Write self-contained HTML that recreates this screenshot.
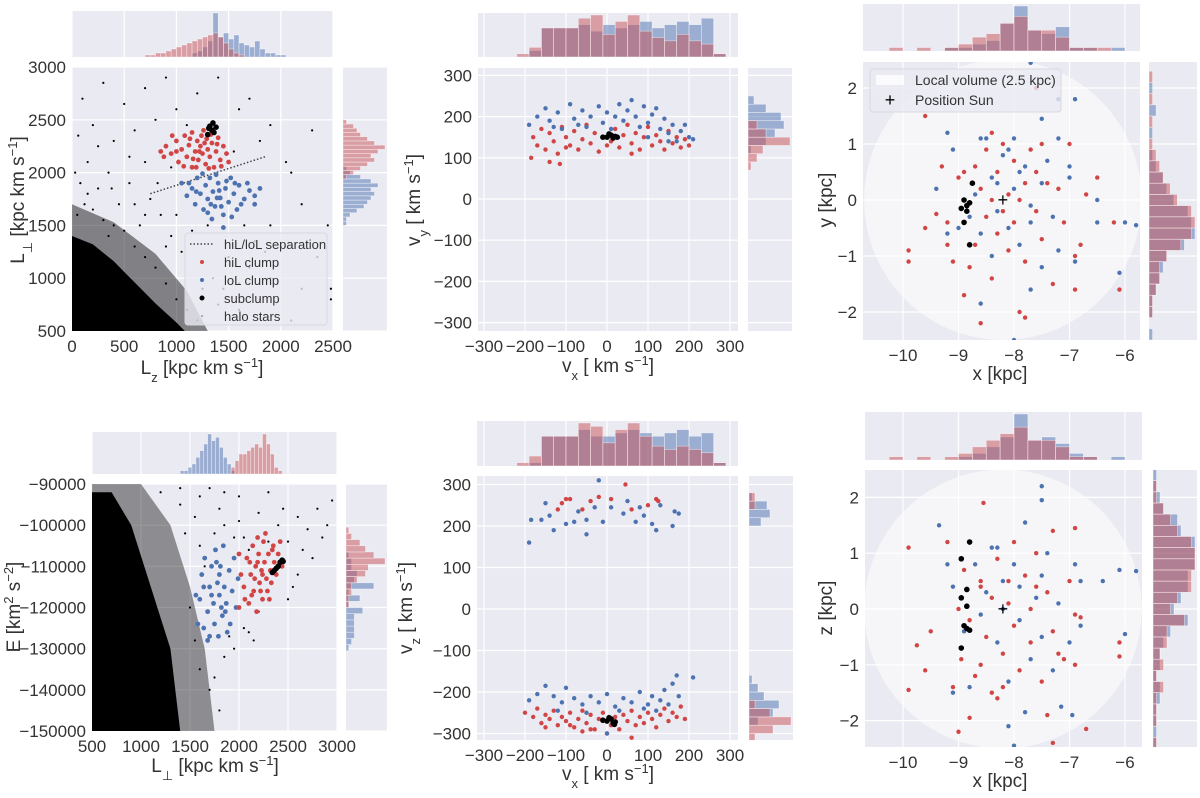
<!DOCTYPE html>
<html><head><meta charset="utf-8">
<style>
html,body{margin:0;padding:0;background:#fff;}
svg{display:block;font-family:"Liberation Sans",sans-serif;}
</style></head>
<body>
<svg id="fig" width="1200" height="798" viewBox="0 0 1200 798" xmlns="http://www.w3.org/2000/svg"></svg>
<script>
// ---------------- DATA ----------------
// Panel 1: Lz vs Lperp
const p1Red=[900,2250,950,2180,1000,2300,1020,2100,1050,2220,1080,2350,1100,2150,1120,2260,1150,2050,1150,2380,1180,2200,1200,2300,1210,2120,1230,2250,1250,2180,1260,2400,1280,2080,1290,2320,1300,2220,1320,2150,1340,2280,1360,2050,1380,2200,1400,2330,1420,2120,1450,2250,1480,2180,1500,2100,880,2150,960,2350,1070,2060,1130,2320,1190,2050,1240,2350,1310,2040,1390,2270,1430,2060,1000,2200,1220,2200,1160,2130,1270,2280,850,2200,1330,2360];
const p1Blue=[1050,1900,1100,1780,1150,1850,1180,1700,1200,1950,1230,1800,1260,1650,1280,1880,1300,1750,1320,1950,1350,1820,1370,1680,1400,1900,1420,1760,1450,1600,1470,1850,1500,1720,1520,1950,1550,1800,1580,1650,1600,1880,1650,1750,1700,1830,1750,1700,1800,1850,1340,1560,1250,1990,1380,1980,1480,1920,1560,1900,1620,1700,1430,1680,1330,1700,1190,1820,1410,1830,1300,1620,1530,1580,1120,1900,1680,1900,1750,1780,1450,1480,1390,1760];
const p1Sub=[1300,2360,1320,2440,1340,2400,1350,2470,1360,2380,1310,2420,1380,2430];
const p1Halo=[50,1600,120,1700,200,1650,300,1550,80,1900,250,1850,400,1500,500,1450,450,1700,600,1300,700,1200,650,1500,800,1100,900,950,1000,800,1100,700,1200,600,150,2100,350,2000,550,1900,750,1750,850,1600,950,1400,1050,1250,1250,900,1400,750,1500,1200,1700,1100,1900,1500,2000,1300,2200,1700,2100,2000,1800,2300,1600,2600,1400,2900,1200,2750,1000,2600,800,2500,600,2400,400,2300,200,2450,100,2700,300,2850,700,2800,900,2900,1100,2450,500,2650,1700,2700,1900,2450,2300,2400,2450,1500,2350,1200,1600,950,1300,1500,700,2100,250,2250,60,2350,1550,2200,2050,2100,1850,1250,2480,900,2480,800,1650,1500,1750,1350,950,2050,30,2000,350,1400,150,1800,1000,1600,1150,1450,1250,1150,900,1300,600,1700,1350,1000,1450,900,1600,700,1800,800,2100,600,2200,900,1900,1000,700,1600,380,1850,550,2150,820,1900];
const p1Dense=[0,500,0,1400,200,1320,400,1160,600,960,800,760,1000,580,1080,500];
const p1Medium=[0,500,0,1700,400,1530,800,1230,1100,880,1300,500];
const p1Sep=[750,1800,1850,2150];
const p1TopStart=700, p1TopW=50;
const p1TopRed=[1,1,2,2,3,4,5,6,7,8,9,10,11,12,10,7,4,2,1,0,0,0,0,0,0,0,0];
const p1TopBlue=[0,0,0,0,0,0,0,0,0,2,3,5,8,22,10,12,9,11,7,6,5,8,4,2,2,1,1];
const p1RStart=1500, p1RW=40;
const p1RBlue=[1,1,2,4,6,7,8,9,8,10,8,5,2,1,0,0,0,0,0,0,0,0,0,0,0];
const p1RRed=[0,0,0,0,0,0,0,0,0,0,0,1,3,5,7,9,8,10,12,9,7,5,4,3,1];
const p1XTicks=[0,500,1000,1500,2000,2500];
const p1YTicks=[500,1000,1500,2000,2500,3000];

// Panel 2: vx vs vy
const p2Red=[-180,150,-170,130,-160,170,-150,120,-140,160,-130,140,-120,110,-110,175,-100,150,-90,130,-80,165,-70,120,-60,145,-50,180,-40,135,-30,160,-20,115,-10,150,10,140,20,170,30,125,40,155,50,180,60,135,70,160,80,120,90,150,100,175,110,130,120,155,130,140,140,120,150,165,160,135,170,150,180,125,190,145,200,130,-100,125,0,130,60,110,-185,100,-140,90,-115,85];
const p2Blue=[-190,180,-170,200,-150,220,-140,190,-120,210,-110,170,-90,230,-80,195,-60,215,-50,175,-40,200,-20,225,-10,185,0,210,10,170,30,230,40,190,50,215,70,200,80,175,90,225,100,185,110,205,130,170,140,195,150,160,160,180,170,140,180,165,200,150,210,145,-130,175,60,240,120,220,20,200,-70,180,100,150,150,140,190,180];
const p2Sub=[0,150,10,155,15,148,20,152,5,158,-10,150,25,150];
const vxTopStart=-250, vxTopW=30;
const p2TopRed=[0,1,3,9,9,9,12,13,7,11,13,8,6,5,7,5,4,1];
const p2TopBlue=[0,0,2,9,9,9,10,8,10,9,10,11,9,10,11,10,12,1];
const p2RStart=70, p2RW=20;
const p2RRed=[1,3,5,14,6,3,0,0,0];
const p2RBlue=[0,0,1,6,9,12,11,6,2];
const vXTicks=[-300,-200,-100,0,100,200,300];
const vYTicks=[-300,-200,-100,0,100,200,300];

// Panel 3: x vs y
const p3Red=[-9.9,-1.1,-9.9,-0.9,-9.6,1.5,-9.6,-0.5,-9.4,-0.25,-9.3,0.6,-9.2,-0.8,-9.1,-1.1,-9.0,0.4,-8.9,-1.7,-8.8,-1.2,-8.7,-0.8,-8.6,0.2,-8.5,-0.3,-8.5,0.9,-8.4,-1.4,-8.3,0.5,-8.3,-0.6,-8.2,1.0,-8.1,0.1,-8.1,-0.9,-8.0,0.7,-8.0,-0.4,-7.9,-2.0,-7.8,0.3,-7.8,-1.1,-7.7,0.9,-7.6,-0.2,-7.6,0.5,-7.5,-0.7,-7.6,2.0,-7.3,-1.5,-7.2,0.2,-7.1,-0.4,-7.0,1.0,-6.9,-1.0,-6.8,-0.8,-6.7,0.1,-6.5,0.4,-6.1,-1.6,-8.6,-2.2,-8.4,1.2,-7.8,-2.1,-9.2,-0.4,-7.5,1.0,-8.4,0.0,-7.9,0.0,-8.7,0.6,-8.9,0.5,-8.2,-0.2,-7.4,0.3,-6.9,-1.6,-6.2,-0.4];
const p3Blue=[-9.4,0.2,-9.2,-0.6,-9.2,1.2,-9.0,-0.5,-9.1,0.9,-8.6,-1.85,-8.7,0.1,-8.6,-0.6,-8.5,1.1,-8.4,0.4,-8.4,-1.0,-8.3,-0.2,-8.2,0.8,-8.1,-0.5,-8.0,1.1,-8.0,0.2,-7.9,-0.8,-7.8,0.6,-7.7,-1.6,-7.7,-0.1,-7.5,1.45,-7.5,0.3,-7.5,-1.2,-7.4,0.7,-7.3,-0.3,-7.2,1.1,-7.2,-0.9,-7.0,0.4,-6.9,-1.1,-7.0,0.6,-6.5,-0.4,-6.5,0.0,-6.1,-1.3,-6.0,-0.4,-5.8,-0.45,-7.7,2.45,-8.0,-2.5,-6.9,1.8,-7.2,1.8,-8.6,1.1,-8.3,0.3,-7.7,-0.4,-8.1,0.9,-7.9,0.5,-8.8,-0.3];
const p3Sub=[-8.9,0.0,-8.85,-0.1,-8.95,-0.15,-8.8,-0.05,-8.9,-0.4,-8.8,-0.8,-8.75,0.3,-8.85,-0.2];
const xTopStart=-10.5, xTopW=0.25;
const p3TopRed=[0,1,0,1,0,1,2,4,5,8,10,6,6,4,1,1,1,0,0];
const p3TopBlue=[0,0,0,0,0,1,1,2,3,8,13,6,5,7,1,1,0,1,0];
const yRStart=-2.5, yRW=0.2;
const p3RRed=[0,0,1,1,2,3,3,5,9,12,13,12,8,6,4,3,2,1,0,1,0,1,0,1,0];
const p3RBlue=[1,0,1,1,2,3,4,5,10,13,12,11,7,5,4,2,1,0,1,0,2,0,1,0,0];
const xXTicks=[-10,-9,-8,-7,-6];
const yYTicks=[-2,-1,0,1,2];

// Panel 4: Lperp vs E
const p4Red=[2050,-115000,2080,-108000,2100,-119000,2120,-112000,2140,-105000,2150,-116000,2170,-110000,2180,-121000,2200,-107000,2210,-114000,2230,-111000,2240,-118000,2250,-104000,2260,-109000,2280,-113000,2290,-116000,2300,-107000,2320,-111000,2330,-114000,2350,-105000,2360,-109000,2380,-112000,2400,-107000,2420,-104000,2440,-110000,2000,-120000,2020,-112000,2060,-118000,2110,-109000,2190,-103000,2270,-102000,2160,-113000,2220,-116000,2310,-118000,2340,-106000,2130,-117000,2000,-107000,2240,-112000,2190,-109000];
const p4Blue=[1600,-118000,1620,-112000,1640,-125000,1650,-108000,1680,-121000,1700,-115000,1700,-127000,1720,-110000,1740,-119000,1750,-124000,1760,-106000,1780,-114000,1790,-127000,1800,-117000,1810,-110000,1830,-122000,1840,-105000,1850,-115000,1870,-119000,1880,-126000,1900,-111000,1910,-124000,1930,-116000,1950,-108000,1970,-120000,1990,-113000,1580,-124000,1560,-117000,1680,-128000,1770,-109000,1860,-121000,1720,-117000,1820,-120000,1640,-115000,1800,-112000];
const p4Sub=[2340,-111500,2360,-111000,2380,-110500,2400,-110000,2420,-109000,2440,-108500,2450,-108800];
const p4Dense=[500,-150000,500,-92000,700,-92000,900,-100000,1100,-115000,1300,-130000,1400,-150000];
const p4Medium=[500,-150000,500,-90000,1000,-90000,1300,-100000,1500,-115000,1650,-130000,1750,-150000];
const p4Halo=[1400,-91000,1600,-93000,1800,-96000,2000,-99000,2200,-97000,2400,-100000,2600,-98000,2800,-96000,2950,-94000,2700,-101000,2500,-104000,2300,-104000,2100,-106000,1950,-103000,2050,-125000,1950,-130000,1850,-132000,2150,-128000,2500,-118000,2600,-112000,2750,-108000,1700,-91000,2000,-93000,2300,-92000,2200,-121000,2100,-126000,2450,-96000,2850,-103000,2900,-100000,2650,-106000,1750,-102000,1850,-100000,2050,-103000,1600,-105000,1900,-127000,2550,-115000,1550,-98000,1450,-102000,1650,-110000,1500,-120000,1600,-135000,1700,-140000,1800,-145000,1750,-137000,1550,-128000,1400,-95000,1200,-92000,1850,-92000];
const p4TopStart=1400, p4TopW=40;
const p4TopBlue=[1,1,2,3,5,7,9,12,10,11,8,5,3,1,0,0,0,0,0,0,0,0,0,0,0,0,0,0];
const p4TopRed=[0,0,0,0,0,0,0,0,0,0,0,0,0,2,4,6,6,7,8,9,8,12,9,6,2,1,0,0];
const p4RStart=-132000, p4RW=1500;
const p4RBlue=[0,1,2,3,3,3,3,6,1,5,1,10,3,4,2,2,1,0,0,0,0];
const p4RRed=[0,0,0,0,0,0,0,0,1,1,2,2,4,7,8,14,10,7,5,2,1];
const p4XTicks=[500,1000,1500,2000,2500,3000];
const p4YTicks=[-150000,-140000,-130000,-120000,-110000,-100000,-90000];

// Panel 5: vx vs vz
const p5Red=[-110,255,-100,265,-90,265,-60,240,-40,260,-20,270,10,265,45,300,60,240,120,265,100,250,-120,240,125,260,-200,-250,-180,-260,-170,-240,-160,-275,-150,-255,-140,-265,-130,-245,-120,-280,-110,-260,-100,-270,-90,-250,-80,-285,-70,-265,-60,-245,-50,-275,-40,-255,-30,-290,-20,-265,-10,-250,10,-280,20,-260,30,-290,40,-255,50,-270,60,-245,70,-280,80,-260,90,-275,100,-250,110,-265,120,-285,130,-255,140,-240,150,-270,160,-250,170,-260,180,-235,190,-265,-150,-285,-60,-295,0,-300,60,-310,-90,-280,-40,-290];
const p5Blue=[-190,160,-185,215,-160,215,-150,255,-140,225,-130,190,-100,205,-80,210,-70,235,-50,215,-30,245,-10,210,-20,310,10,245,40,230,50,260,70,210,90,225,110,205,120,190,130,250,160,200,165,235,175,230,-50,180,80,245,-190,-220,-170,-205,-150,-185,-130,-210,-110,-225,-100,-190,-80,-215,-60,-230,-40,-210,-20,-225,0,-205,20,-235,40,-215,60,-225,80,-200,100,-230,110,-210,130,-220,140,-195,150,-230,160,-180,170,-160,175,-210,210,-165,120,-245,-120,-245,-50,-250,30,-245,90,-240,0,-300];
const p5Sub=[-10,-268,0,-270,10,-265,15,-275,20,-272,5,-262,18,-278];
const p5TopRed=[0,1,3,9,9,9,13,12,7,11,13,9,6,5,6,5,4,1];
const p5TopBlue=[0,0,1,9,9,9,11,9,9,10,11,10,9,10,11,9,10,1];
const p5RStart=-320, p5RW=20;
const p5RRed=[2,8,14,7,2,0,0,0,0,0,0,0,0,0,0,0,0,0,0,0,0,0,0,0,0,0,0,0,2,2,0,0];
const p5RBlue=[0,0,3,8,10,5,3,1,0,0,0,0,0,0,0,0,0,0,0,0,0,0,0,0,0,0,4,7,6,1,0,0];

// Panel 6: x vs z
const p6Red=[-9.9,-1.45,-9.9,1.1,-9.75,-0.65,-9.6,-1.1,-9.5,-0.4,-9.2,1.2,-9.1,-1.4,-9.0,-2.2,-8.9,0.7,-8.8,-0.2,-8.7,-1.2,-8.6,0.4,-8.55,1.9,-8.5,-0.5,-8.4,-1.5,-8.3,0.9,-8.2,-0.8,-8.1,0.1,-8.0,1.2,-8.0,-0.3,-7.9,-1.1,-7.8,0.6,-7.7,-0.6,-7.6,1.0,-7.5,-1.3,-7.4,0.3,-7.3,-0.4,-7.3,1.4,-7.1,-0.9,-7.0,0.5,-6.9,-0.1,-6.9,-1.0,-6.8,-0.15,-6.9,1.45,-6.1,-0.6,-6.1,-0.85,-8.3,-1.6,-7.4,-1.9,-8.8,-1.95,-7.3,-2.4,-6.7,-2.15,-8.1,0.5,-7.7,0.0,-8.4,0.2,-8.6,-1.0,-8.95,-0.9,-9.0,0.0,-8.6,0.5,-7.6,0.4,-8.2,-1.4,-7.2,-0.8];
const p6Blue=[-9.35,1.5,-9.1,-1.5,-9.1,0.4,-9.2,0.8,-8.9,-0.4,-8.8,-1.4,-8.7,0.8,-8.6,-0.1,-8.5,0.3,-8.4,1.1,-8.3,-0.6,-8.2,0.5,-8.1,-1.3,-8.0,0.8,-7.9,-0.2,-7.8,1.55,-7.7,-0.9,-7.6,0.2,-7.5,-0.5,-7.4,1.0,-7.3,-1.1,-7.2,0.1,-7.0,-0.6,-6.9,0.8,-6.8,-0.3,-6.8,0.5,-6.4,0.5,-6.1,0.7,-6.0,-0.45,-5.8,0.68,-7.15,-1.75,-7.5,1.95,-7.8,-1.85,-8.1,-2.1,-6.95,-1.9,-7.5,2.2,-8.2,0.0,-7.9,0.4,-7.5,0.6,-8.0,-2.45,-8.3,1.1];
const p6Sub=[-8.8,1.2,-8.95,0.9,-8.85,0.35,-8.95,0.2,-8.85,0.05,-8.9,-0.3,-8.85,-0.35,-8.8,-0.38,-8.95,-0.7];
const p6TopRed=[0,1,0,1,0,1,2,4,6,8,10,6,6,4,1,1,0,0,0];
const p6TopBlue=[0,0,0,0,0,0,1,2,4,7,14,6,7,5,2,1,0,1,0];
const zRStart=-2.5, zRW=0.2;
const p6RRed=[1,0,1,1,1,3,1,3,2,4,4,9,5,7,11,11,12,12,11,7,5,3,1,1,0];
const p6RBlue=[1,1,1,1,2,2,1,2,2,3,5,10,6,8,10,10,12,12,12,8,7,3,2,1,1];
const zYTicks=[-2,-1,0,1,2];

// ---------------- DRAWING ----------------
const NS="http://www.w3.org/2000/svg";
const fig=document.getElementById('fig');
const BG="#EAEAF2", RED="#D24545", BLUE="#4C72B0";
const HRED="rgba(200,80,85,0.5)", HBLUE="rgba(76,114,176,0.5)";
function el(tag,attrs,parent){const e=document.createElementNS(NS,tag);for(const k in attrs)e.setAttribute(k,attrs[k]);(parent||fig).appendChild(e);return e;}
function lin(v0,p0,v1,p1){return v=>p0+(v-v0)/(v1-v0)*(p1-p0);}
let clipN=0;
function axesBox(name,x0,y0,x1,y1){
  const g=el('g',{});
  
  
  const r=el('rect',{x:x0,y:y0,width:x1-x0,height:y1-y0,fill:BG},g);
  
  
  const id='c'+(clipN++);
  const cp=el('clipPath',{id:id},g);
  el('rect',{x:x0,y:y0,width:x1-x0,height:y1-y0},cp);
  const inner=el('g',{'clip-path':'url(#'+id+')'},g);
  return inner;
}
function grid(g,xs,ys,sx,sy,x0,y0,x1,y1){
  xs.forEach(v=>{const l=el('line',{x1:sx(v),x2:sx(v),y1:y0,y2:y1,stroke:'#fff','stroke-width':1.2},g);});
  ys.forEach(v=>{const l=el('line',{x1:x0,x2:x1,y1:sy(v),y2:sy(v),stroke:'#fff','stroke-width':1.2},g);});
}
function ticks(xs,ys,sx,sy,x0,y1,fmt){
  const f=fmt||(v=>String(v).replace('-','\u2212'));
  xs.forEach(v=>{const t=el('text',{x:sx(v),y:y1+21,'text-anchor':'middle','font-size':17,fill:'#333'});t.textContent=f(v);});
  ys.forEach(v=>{const t=el('text',{x:x0-6,y:sy(v)+6,'text-anchor':'end','font-size':17,fill:'#333'});t.textContent=f(v);});
}
function label(parts,x,y,rot,name){
  const t=el('text',{x:x,y:y,'text-anchor':'middle','font-size':19,fill:'#333',transform:rot?`rotate(-90 ${x} ${y})`:''});
  
  
  parts.forEach(p=>{const s=el('tspan',{},t);s.textContent=p[0];if(p[1]==='sub'){s.setAttribute('baseline-shift','sub');s.setAttribute('font-size',13);}if(p[1]==='sup'){s.setAttribute('baseline-shift','super');s.setAttribute('font-size',13);}});
}
function scatter(g,arr,sx,sy,color,r,name){
  for(let i=0;i<arr.length;i+=2){
    const c=el('circle',{cx:sx(arr[i]),cy:sy(arr[i+1]),r:r,fill:color},g);
    
    
  }
}
function poly(g,arr,sx,sy,fill,name){
  let pts=[];for(let i=0;i<arr.length;i+=2)pts.push(sx(arr[i])+','+sy(arr[i+1]));
  const p=el('polygon',{points:pts.join(' '),fill:fill},g);
  
  
}
function topHist(box,sx,xt,start,w,reds,blues){
  const [x0,y0,x1,y1]=box;
  const g=axesBox('top-histogram',x0,y0,x1,y1);
  grid(g,xt,[],sx,null,x0,y0,x1,y1);
  const mx=Math.max(...reds,...blues), H=(y1-y0-2);
  [[blues,HBLUE,'hist-bar-lol'],[reds,HRED,'hist-bar-hil']].forEach(([arr,col,nm])=>{
    arr.forEach((c,i)=>{if(!c)return;const a=sx(start+i*w),b=sx(start+(i+1)*w),h=c/mx*H;
      const r=el('rect',{x:Math.min(a,b),y:y1-h,width:Math.abs(b-a),height:h,fill:col,stroke:'rgba(255,255,255,0.6)','stroke-width':0.6},g);
      });
  });
}
function rightHist(box,sy,yt,start,w,reds,blues){
  const [x0,y0,x1,y1]=box;
  const g=axesBox('right-histogram',x0,y0,x1,y1);
  grid(g,[],yt,null,sy,x0,y0,x1,y1);
  const mx=Math.max(...reds,...blues), W=(x1-x0-2);
  [[blues,HBLUE,'hist-bar-lol'],[reds,HRED,'hist-bar-hil']].forEach(([arr,col,nm])=>{
    arr.forEach((c,i)=>{if(!c)return;const a=sy(start+i*w),b=sy(start+(i+1)*w),h=c/mx*W;
      const r=el('rect',{x:x0,y:Math.min(a,b),width:h,height:Math.abs(b-a),fill:col,stroke:'rgba(255,255,255,0.6)','stroke-width':0.6},g);
      });
  });
}

// ---- Panel 1 ----
(function(){
  const B=[72,67,333,331];
  const sx=lin(0,72,2500,333), sy=lin(500,331,3000,67);
  const g=axesBox('lz-lperp-axes',...B);
  grid(g,p1XTicks,p1YTicks,sx,sy,...B);
  poly(g,p1Medium,sx,sy,'rgba(0,0,0,0.45)','halo-medium-density');
  poly(g,p1Dense,sx,sy,'#000','halo-dense-region');
  scatter(g,p1Halo,sx,sy,'#000',1.1,'halo-star');
  const l=el('line',{x1:sx(p1Sep[0]),y1:sy(p1Sep[1]),x2:sx(p1Sep[2]),y2:sy(p1Sep[3]),stroke:'#444','stroke-width':1.5,'stroke-dasharray':'1.5,2'},g);
  
  scatter(g,p1Red,sx,sy,RED,2.4,'hil-clump-point');
  scatter(g,p1Blue,sx,sy,BLUE,2.4,'lol-clump-point');
  scatter(g,p1Sub,sx,sy,'#000',2.8,'subclump-point');
  const lg=el('g',{});
  el('rect',{x:185,y:233,width:142,height:92,rx:3,fill:'rgba(234,234,242,0.8)',stroke:'#d8d8e0'},lg);
  const rows=[['hiL/loL separation','line'],['hiL clump',RED],['loL clump',BLUE],['subclump','#000'],['halo stars','#999']];
  rows.forEach((r,i)=>{const y=244+i*18;
    const e=el('g',{},lg);
    if(r[1]==='line')el('line',{x1:190,x2:214,y1:y,y2:y,stroke:'#444','stroke-width':1.5,'stroke-dasharray':'1.5,2'},e);
    else el('circle',{cx:202,cy:y,r:i==4?1:(i==3?2.5:2),fill:r[1]},e);
    const t=el('text',{x:224,y:y+5,'font-size':13,fill:'#333'},e);t.textContent=r[0];});
  ticks(p1XTicks,p1YTicks,sx,sy,72,331);
  label([['L'],['z','sub'],[' [kpc km s'],['\u22121','sup'],[']']],202,374,false,'x-axis-title');
  label([['L'],['\u22a5','sub'],[' [kpc km s'],['\u22121','sup'],[']']],24,200,true,'y-axis-title');
  topHist([72,11,333,57],sx,p1XTicks,p1TopStart,p1TopW,p1TopRed,p1TopBlue);
  rightHist([343,67,387,331],sy,p1YTicks,p1RStart,p1RW,p1RRed,p1RBlue);
})();

// ---- Panel 2 ----
(function(){
  const B=[478,68,738,331];
  const sx=lin(0,607,100,648), sy=lin(0,199,100,157.8);
  const g=axesBox('vx-vy-axes',...B);
  grid(g,vXTicks,vYTicks,sx,sy,...B);
  scatter(g,p2Red,sx,sy,RED,2.2,'hil-clump-point');
  scatter(g,p2Blue,sx,sy,BLUE,2.2,'lol-clump-point');
  scatter(g,p2Sub,sx,sy,'#000',2.8,'subclump-point');
  ticks(vXTicks,vYTicks,sx,sy,478,331);
  label([['v'],['x','sub'],[' [ km s'],['\u22121','sup'],[']']],608,372,false,'x-axis-title');
  label([['v'],['y','sub'],[' [ km s'],['\u22121','sup'],[']']],420,200,true,'y-axis-title');
  topHist([478,13,738,57],sx,vXTicks,vxTopStart,vxTopW,p2TopRed,p2TopBlue);
  rightHist([748,68,792,331],sy,vYTicks,p2RStart,p2RW,p2RRed,p2RBlue);
})();

// ---- Panel 3 ----
(function(){
  const B=[863,62,1140,340];
  const sx=lin(-8,1014,-7,1069.5), sy=lin(0,200,1,144);
  const g=axesBox('x-y-axes',...B);
  grid(g,xXTicks,yYTicks,sx,sy,...B);
  const c=el('ellipse',{cx:sx(-8.2),cy:sy(0),rx:sx(-5.7)-sx(-8.2),ry:sy(0)-sy(2.5),fill:'rgba(255,255,255,0.55)'},g);
  
  scatter(g,p3Red,sx,sy,RED,2.2,'hil-clump-point');
  scatter(g,p3Blue,sx,sy,BLUE,2.2,'lol-clump-point');
  scatter(g,p3Sub,sx,sy,'#000',2.8,'subclump-point');
  const s=el('text',{x:sx(-8.2),y:sy(0)+6,'text-anchor':'middle','font-size':18,fill:'#000'},g);s.textContent='+';
  
  const lg=el('g',{});
  el('rect',{x:870,y:69,width:191,height:43,rx:3,fill:'rgba(234,234,242,0.8)',stroke:'#d8d8e0'},lg);
  el('rect',{x:876,y:75,width:28,height:10,fill:'rgba(255,255,255,0.8)'},lg);
  let t=el('text',{x:915,y:85,'font-size':14,fill:'#333'},lg);t.textContent='Local volume (2.5 kpc)';
  t=el('text',{x:890,y:106,'text-anchor':'middle','font-size':18,fill:'#000'},lg);t.textContent='+';
  t=el('text',{x:915,y:105,'font-size':14,fill:'#333'},lg);t.textContent='Position Sun';
  ticks(xXTicks,yYTicks,sx,sy,863,340);
  label([['x [kpc]']],1000,380,false,'x-axis-title');
  label([['y [kpc]']],832,200,true,'y-axis-title');
  topHist([863,4,1140,51],sx,xXTicks,xTopStart,xTopW,p3TopRed,p3TopBlue);
  rightHist([1149,62,1197,340],sy,yYTicks,yRStart,yRW,p3RRed,p3RBlue);
})();

// ---- Panel 4 ----
(function(){
  const B=[92,484,337,731];
  const sx=lin(500,92,3000,337), sy=lin(-150000,731,-90000,484);
  const g=axesBox('lperp-energy-axes',...B);
  grid(g,p4XTicks,p4YTicks,sx,sy,...B);
  poly(g,p4Medium,sx,sy,'rgba(0,0,0,0.4)','halo-medium-density');
  poly(g,p4Dense,sx,sy,'#000','halo-dense-region');
  scatter(g,p4Halo,sx,sy,'#000',1.1,'halo-star');
  scatter(g,p4Blue,sx,sy,BLUE,2.4,'lol-clump-point');
  scatter(g,p4Red,sx,sy,RED,2.4,'hil-clump-point');
  scatter(g,p4Sub,sx,sy,'#000',2.8,'subclump-point');
  ticks(p4XTicks,p4YTicks,sx,sy,92,731);
  label([['L'],['\u22a5','sub'],[' [kpc km s'],['\u22121','sup'],[']']],215,772,false,'x-axis-title');
  label([['E [km'],['2','sup'],[' s'],['\u22122','sup'],[']']],20,607,true,'y-axis-title');
  topHist([92,432,337,474],sx,p4XTicks,p4TopStart,p4TopW,p4TopRed,p4TopBlue);
  rightHist([346,484,387,731],sy,p4YTicks,p4RStart,p4RW,p4RRed,p4RBlue);
})();

// ---- Panel 5 ----
(function(){
  const B=[477,476,738,740];
  const sx=lin(0,607,100,648), sy=lin(0,609,100,567.5);
  const g=axesBox('vx-vz-axes',...B);
  grid(g,vXTicks,vYTicks,sx,sy,...B);
  scatter(g,p5Red,sx,sy,RED,2.2,'hil-clump-point');
  scatter(g,p5Blue,sx,sy,BLUE,2.2,'lol-clump-point');
  scatter(g,p5Sub,sx,sy,'#000',2.8,'subclump-point');
  ticks(vXTicks,vYTicks,sx,sy,477,740);
  label([['v'],['x','sub'],[' [ km s'],['\u22121','sup'],[']']],608,780,false,'x-axis-title');
  label([['v'],['z','sub'],[' [ km s'],['\u22121','sup'],[']']],412,608,true,'y-axis-title');
  topHist([477,421,738,466],sx,vXTicks,vxTopStart,vxTopW,p5TopRed,p5TopBlue);
  rightHist([749,476,793,740],sy,vYTicks,p5RStart,p5RW,p5RRed,p5RBlue);
})();

// ---- Panel 6 ----
(function(){
  const B=[865,470,1142,747];
  const sx=lin(-8,1014,-7,1069.5), sy=lin(0,609,1,553.2);
  const g=axesBox('x-z-axes',...B);
  grid(g,xXTicks,zYTicks,sx,sy,...B);
  const c=el('ellipse',{cx:sx(-8.2),cy:sy(0),rx:sx(-5.7)-sx(-8.2),ry:sy(0)-sy(2.5),fill:'rgba(255,255,255,0.55)'},g);
  
  scatter(g,p6Red,sx,sy,RED,2.2,'hil-clump-point');
  scatter(g,p6Blue,sx,sy,BLUE,2.2,'lol-clump-point');
  scatter(g,p6Sub,sx,sy,'#000',2.8,'subclump-point');
  const s=el('text',{x:sx(-8.2),y:sy(0)+6,'text-anchor':'middle','font-size':18,fill:'#000'},g);s.textContent='+';
  
  ticks(xXTicks,zYTicks,sx,sy,865,747);
  label([['x [kpc]']],1000,787,false,'x-axis-title');
  label([['z [kpc]']],832,608,true,'y-axis-title');
  topHist([865,412,1142,460],sx,xXTicks,xTopStart,xTopW,p6TopRed,p6TopBlue);
  rightHist([1153,470,1197,747],sy,zYTicks,zRStart,zRW,p6RRed,p6RBlue);
})();
</script>
</body></html>
